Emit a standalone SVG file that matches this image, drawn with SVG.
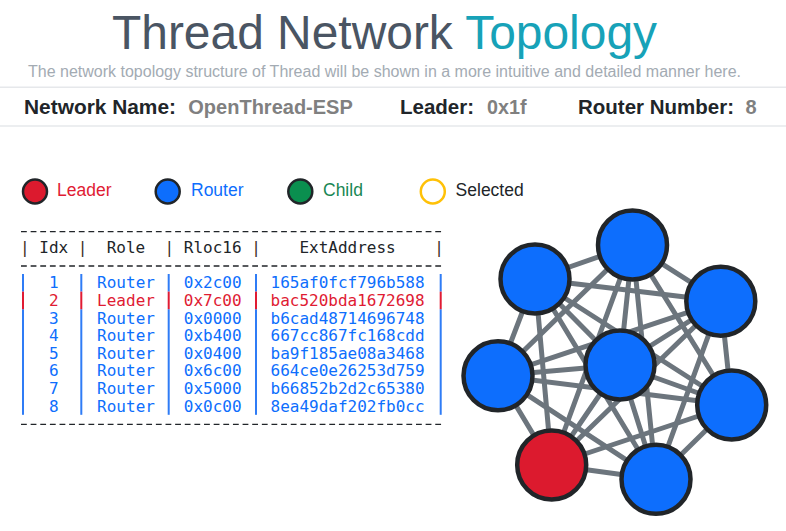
<svg xmlns="http://www.w3.org/2000/svg" width="786" height="531" viewBox="0 0 786 531">
<style>
.sans{font-family:"Liberation Sans",Arial,sans-serif}
.bold{font-family:"Liberation Sans",Arial,sans-serif;font-weight:bold;font-size:20px}
.lbl{fill:#212529}
.val{fill:#808080}
.mono{font-family:"DejaVu Sans Mono","Liberation Mono",monospace;font-size:16px}
.rt{fill:#0d6efd}
.ld{fill:#e01b33}
.dash{stroke:#212529;stroke-width:1.3;stroke-dasharray:5.8 3.834}
.bar-r{fill:#2f7cf6}
.bar-l{fill:#e01b33}
.edge{stroke:#6c757d;stroke-width:5;stroke-linecap:round}
.node{stroke:#212529;stroke-width:4.5}
.router{fill:#0d6efd}
.leader{fill:#dc1a2e}
.lg{stroke:#212529;stroke-width:2.5}
</style>
<rect width="786" height="531" fill="#ffffff"/>

<g id="title">
<text class="sans" x="112" y="48.5" font-size="47.5" textLength="545" lengthAdjust="spacingAndGlyphs"><tspan fill="#4a5563">Thread Network </tspan><tspan fill="#17a2b8">Topology</tspan></text>
<text class="sans" x="28" y="77.3" font-size="16" fill="#a3abb3">The network topology structure of Thread will be shown in a more intuitive and detailed manner here.</text>
</g>

<g id="info-bar">
<line x1="0" y1="87.3" x2="786" y2="87.3" stroke="#e6e8eb" stroke-width="1.5"/>
<line x1="0" y1="126" x2="786" y2="126" stroke="#e6e8eb" stroke-width="1.5"/>
<text class="bold lbl" x="24" y="114" textLength="152" lengthAdjust="spacingAndGlyphs">Network Name:</text>
<text class="bold val" x="188.3" y="114" textLength="164.5" lengthAdjust="spacingAndGlyphs">OpenThread-ESP</text>
<text class="bold lbl" x="400" y="114" textLength="74" lengthAdjust="spacingAndGlyphs">Leader:</text>
<text class="bold val" x="487" y="114" textLength="39.5" lengthAdjust="spacingAndGlyphs">0x1f</text>
<text class="bold lbl" x="578" y="114" textLength="156" lengthAdjust="spacingAndGlyphs">Router Number:</text>
<text class="bold val" x="745.5" y="114">8</text>
</g>

<g id="legend">
<circle class="lg" cx="35" cy="191.5" r="12" fill="#dc1a2e"/>
<text class="sans" x="57" y="196" font-size="17.5" fill="#e01b33">Leader</text>
<circle class="lg" cx="167.7" cy="191.5" r="12" fill="#0d6efd"/>
<text class="sans" x="191" y="196" font-size="17.5" fill="#0d6efd">Router</text>
<circle class="lg" cx="300.3" cy="191.5" r="12" fill="#0a8f4f"/>
<text class="sans" x="323" y="196" font-size="17.5" fill="#198754">Child</text>
<circle cx="432.8" cy="191.5" r="12" fill="#ffffff" stroke="#ffc107" stroke-width="2.5"/>
<text class="sans" x="455.6" y="196" font-size="17.5" fill="#212529">Selected</text>
</g>

<g id="table">
<line class="dash" x1="21" y1="231.7" x2="443" y2="231.7"/>
<line class="dash" x1="21" y1="266" x2="443" y2="266"/>
<line class="dash" x1="21" y1="424.3" x2="443" y2="424.3"/>
<text class="mono" y="253.3" fill="#212529"><tspan x="20" fill="#3a2c24">|</tspan><tspan x="39.27">Idx</tspan><tspan x="77.8" fill="#3a2c24">|</tspan><tspan x="106.7">Role</tspan><tspan x="164.5" fill="#3a2c24">|</tspan><tspan x="183.8">Rloc16</tspan><tspan x="251.2" fill="#3a2c24">|</tspan><tspan x="299.4">ExtAddress</tspan><tspan x="434.2" fill="#3a2c24">|</tspan></text>

<g id="row-bars">
<g class="bar-r">
<rect x="22" y="274" width="2" height="17.6"/><rect x="80.3" y="274" width="2" height="17.6"/><rect x="167.7" y="274" width="2" height="17.6"/><rect x="255" y="274" width="2" height="17.6"/><rect x="439.7" y="274" width="2" height="17.6"/>
<rect x="22" y="309.2" width="2" height="105.6"/><rect x="80.3" y="309.2" width="2" height="105.6"/><rect x="167.7" y="309.2" width="2" height="105.6"/><rect x="255" y="309.2" width="2" height="105.6"/><rect x="439.7" y="309.2" width="2" height="105.6"/>
</g>
<g class="bar-l">
<rect x="22" y="291.6" width="2" height="17.6"/><rect x="80.3" y="291.6" width="2" height="17.6"/><rect x="167.7" y="291.6" width="2" height="17.6"/><rect x="255" y="291.6" width="2" height="17.6"/><rect x="439.7" y="291.6" width="2" height="17.6"/>
</g>
</g>

<text class="mono rt" y="288.3"><tspan x="48.9">1</tspan><tspan x="97.1">Router</tspan><tspan x="183.8">0x2c00</tspan><tspan x="270.5">165af0fcf796b588</tspan></text>
<text class="mono ld" y="305.9"><tspan x="48.9">2</tspan><tspan x="97.1">Leader</tspan><tspan x="183.8">0x7c00</tspan><tspan x="270.5">bac520bda1672698</tspan></text>
<text class="mono rt" y="323.5"><tspan x="48.9">3</tspan><tspan x="97.1">Router</tspan><tspan x="183.8">0x0000</tspan><tspan x="270.5">b6cad48714696748</tspan></text>
<text class="mono rt" y="341.1"><tspan x="48.9">4</tspan><tspan x="97.1">Router</tspan><tspan x="183.8">0xb400</tspan><tspan x="270.5">667cc867fc168cdd</tspan></text>
<text class="mono rt" y="358.7"><tspan x="48.9">5</tspan><tspan x="97.1">Router</tspan><tspan x="183.8">0x0400</tspan><tspan x="270.5">ba9f185ae08a3468</tspan></text>
<text class="mono rt" y="376.3"><tspan x="48.9">6</tspan><tspan x="97.1">Router</tspan><tspan x="183.8">0x6c00</tspan><tspan x="270.5">664ce0e26253d759</tspan></text>
<text class="mono rt" y="393.9"><tspan x="48.9">7</tspan><tspan x="97.1">Router</tspan><tspan x="183.8">0x5000</tspan><tspan x="270.5">b66852b2d2c65380</tspan></text>
<text class="mono rt" y="411.5"><tspan x="48.9">8</tspan><tspan x="97.1">Router</tspan><tspan x="183.8">0x0c00</tspan><tspan x="270.5">8ea49daf202fb0cc</tspan></text>
</g>

<g id="connectors" class="edge">
<line x1="632.5" y1="245" x2="535" y2="279"/>
<line x1="632.5" y1="245" x2="720.8" y2="301.3"/>
<line x1="632.5" y1="245" x2="498" y2="375.7"/>
<line x1="632.5" y1="245" x2="620" y2="365"/>
<line x1="632.5" y1="245" x2="731.7" y2="405"/>
<line x1="632.5" y1="245" x2="551.7" y2="465"/>
<line x1="632.5" y1="245" x2="656" y2="479.3"/>
<line x1="535" y1="279" x2="720.8" y2="301.3"/>
<line x1="535" y1="279" x2="498" y2="375.7"/>
<line x1="535" y1="279" x2="620" y2="365"/>
<line x1="535" y1="279" x2="731.7" y2="405"/>
<line x1="535" y1="279" x2="551.7" y2="465"/>
<line x1="535" y1="279" x2="656" y2="479.3"/>
<line x1="720.8" y1="301.3" x2="498" y2="375.7"/>
<line x1="720.8" y1="301.3" x2="620" y2="365"/>
<line x1="720.8" y1="301.3" x2="731.7" y2="405"/>
<line x1="720.8" y1="301.3" x2="551.7" y2="465"/>
<line x1="720.8" y1="301.3" x2="656" y2="479.3"/>
<line x1="498" y1="375.7" x2="620" y2="365"/>
<line x1="498" y1="375.7" x2="731.7" y2="405"/>
<line x1="498" y1="375.7" x2="551.7" y2="465"/>
<line x1="498" y1="375.7" x2="656" y2="479.3"/>
<line x1="620" y1="365" x2="731.7" y2="405"/>
<line x1="620" y1="365" x2="551.7" y2="465"/>
<line x1="620" y1="365" x2="656" y2="479.3"/>
<line x1="731.7" y1="405" x2="551.7" y2="465"/>
<line x1="731.7" y1="405" x2="656" y2="479.3"/>
<line x1="551.7" y1="465" x2="656" y2="479.3"/>
</g>

<g id="node-top"><circle class="node router" cx="632.5" cy="245" r="34.5"/></g>
<g id="node-upper-left"><circle class="node router" cx="535" cy="279" r="34.5"/></g>
<g id="node-upper-right"><circle class="node router" cx="720.8" cy="301.3" r="34.5"/></g>
<g id="node-left"><circle class="node router" cx="498" cy="375.7" r="34.5"/></g>
<g id="node-center"><circle class="node router" cx="620" cy="365" r="34.5"/></g>
<g id="node-right"><circle class="node router" cx="731.7" cy="405" r="34.5"/></g>
<g id="node-leader"><circle class="node leader" cx="551.7" cy="465" r="34.5"/></g>
<g id="node-bottom"><circle class="node router" cx="656" cy="479.3" r="34.5"/></g>
</svg>
